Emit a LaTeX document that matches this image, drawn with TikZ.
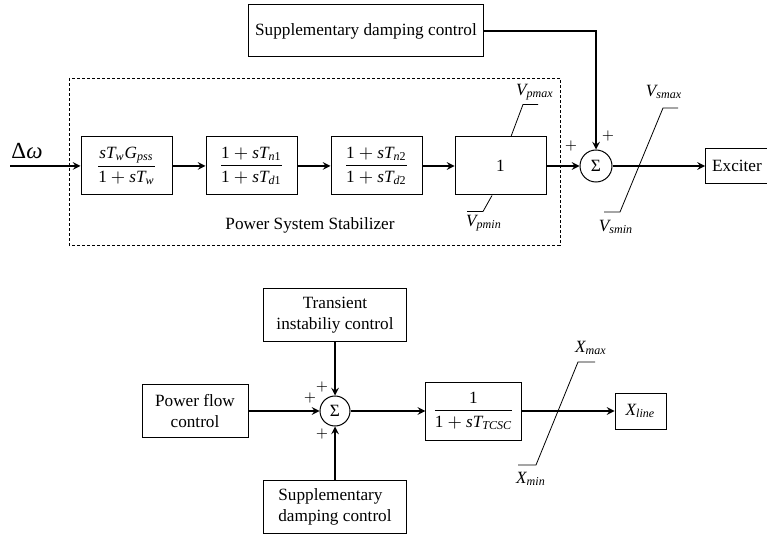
\documentclass[tikz,border=0pt]{standalone}
\usepackage{amsmath}
\usepackage{fontspec}
\setmainfont{Liberation Serif}
\usetikzlibrary{shapes.geometric, arrows, calc}
\newcommand{\vit}[1]{\mathit{#1}}
\newcommand{\vrm}[1]{\mathrm{#1}}
\tikzstyle{block} = [rectangle, draw=black, line width=0.5pt, minimum width=45.5pt, minimum height=29pt, text centered]
\tikzstyle{textbox} = [rectangle, draw=black, line width=0.5pt, align=center, minimum height=26.5pt]
\tikzstyle{sum} = [circle, draw=black, line width=0.5pt, minimum size=16pt, inner sep=0pt]
\tikzstyle{arrow} = [line width=0.7pt,->,>=stealth]
\tikzstyle{limit} = [line width=0.4pt]
\tikzstyle{sign} = [inner sep=0pt, font=\fontsize{7}{8}\selectfont]

\begin{document}
\begin{tikzpicture}[x=0.5pt, y=-0.5pt, node distance=62.5pt, font=\fontsize{8.6}{10.5}\selectfont]
    \useasboundingbox (0,0) rectangle (767,535);

    % power system stabilizer
    \node (wash) [block] at (126.5,166) {$\dfrac{\vit{sT}_{\vit{w}}\vit{G}_{\vit{pss}}}{\vrm{1}+\vit{sT}_{\vit{w}}}$};
    \node (lead1) [block, right of=wash] {$\dfrac{\vrm{1}+\vit{sT}_{\vit{n}\vrm{1}}}{\vrm{1}+\vit{sT}_{\vit{d}\vrm{1}}}$};
    \node (lead2) [block, right of=lead1] {$\dfrac{\vrm{1}+\vit{sT}_{\vit{n}\vrm{2}}}{\vrm{1}+\vit{sT}_{\vit{d}\vrm{2}}}$};
    \node (gain) [block, right of=lead2, xshift=-0.5pt] {1};
    \node (sum1) [sum, right of=gain, xshift=-14.75pt] {Σ};
    \node (exciter) [block, minimum width=29pt, minimum height=17.5pt, right of=sum1, xshift=8pt] {Exciter};
    \node (supp1) [textbox, minimum width=116pt, minimum height=26pt] at (366,31) {Supplementary damping control};
    \coordinate (input) at (10,166);
    \node (dw) [font=\fontsize{11.5}{12}\selectfont] at (27,151) {Δ\textit{ω}};
    \node (pss) at (310,225) {Power System Stabilizer};
    \draw [dashed, dash pattern=on 1.5pt off 1pt, line width=0.4pt] (69,78) rectangle (560,245);

    \draw [limit] ($(gain.north)+(10.5,0)$) -- ++(12,-32) -- ++(15,0);
    \draw [limit] ($(gain.south)+(-8.5,0)$) -- ++(-9,16) -- ++(-16,0);
    \node (vpmax) at (535,92) {$\vit{V}_{\vit{pmax}}$};
    \node (vpmin) at (484,223) {$\vit{V}_{\vit{pmin}}$};
    \draw [limit] (604,212) -- (620,212) -- (663,108) -- (678,108);
    \node (vsmax) at (664,92) {$\vit{V}_{\vit{smax}}$};
    \node (vsmin) at (616,227) {$\vit{V}_{\vit{smin}}$};

    \node [sign] at (571,146) {$+$};
    \node [sign] at (608,136) {$+$};

    % TCSC
    \node (sum2) [sum, minimum size=15pt] at (335,411) {Σ};
    \node (flow) [textbox, minimum width=53pt, left of=sum2, xshift=-7.5pt] {Power flow\\control};
    \node (transient) [textbox, minimum width=71.5pt, above of=sum2, yshift=-14.75pt] {Transient\\instabiliy control};
    \node (supp2) [textbox, align=left, minimum width=71.5pt, below of=sum2, yshift=14.75pt] {Supplementary\\damping control};
    \node (tcsc) [block, right of=sum2, xshift=6.75pt] {$\dfrac{\vrm{1}}{\vrm{1}+\vit{sT}_{\vit{TCSC}}}$};
    \node (xline) [block, minimum width=25.5pt, minimum height=18pt, right of=tcsc, xshift=21pt] {$\vit{X}_{\vit{line}}$};

    \draw [limit] (518,465) -- (536,465) -- (578,362) -- (595,362);
    \node (xmax) at (591,348) {$\vit{X}_{\vit{max}}$};
    \node (xmin) at (531,479) {$\vit{X}_{\vit{min}}$};

    \node [sign] at (310,398) {$+$};
    \node [sign] at (322,387) {$+$};
    \node [sign] at (322,434) {$+$};

    \draw [arrow] (input) -- (wash);
    \draw [arrow] (wash) -- (lead1);
    \draw [arrow] (lead1) -- (lead2);
    \draw [arrow] (lead2) -- (gain);
    \draw [arrow] (gain) -- (sum1);
    \draw [arrow] (sum1) -- (exciter);
    \draw [arrow] (supp1) -| (sum1);

    \draw [arrow] (flow) -- (sum2);
    \draw [arrow] (transient) -- (sum2);
    \draw [arrow] (supp2) -- (sum2);
    \draw [arrow] (sum2) -- (tcsc);
    \draw [arrow] (tcsc) -- (xline);

\end{tikzpicture}
\end{document}
